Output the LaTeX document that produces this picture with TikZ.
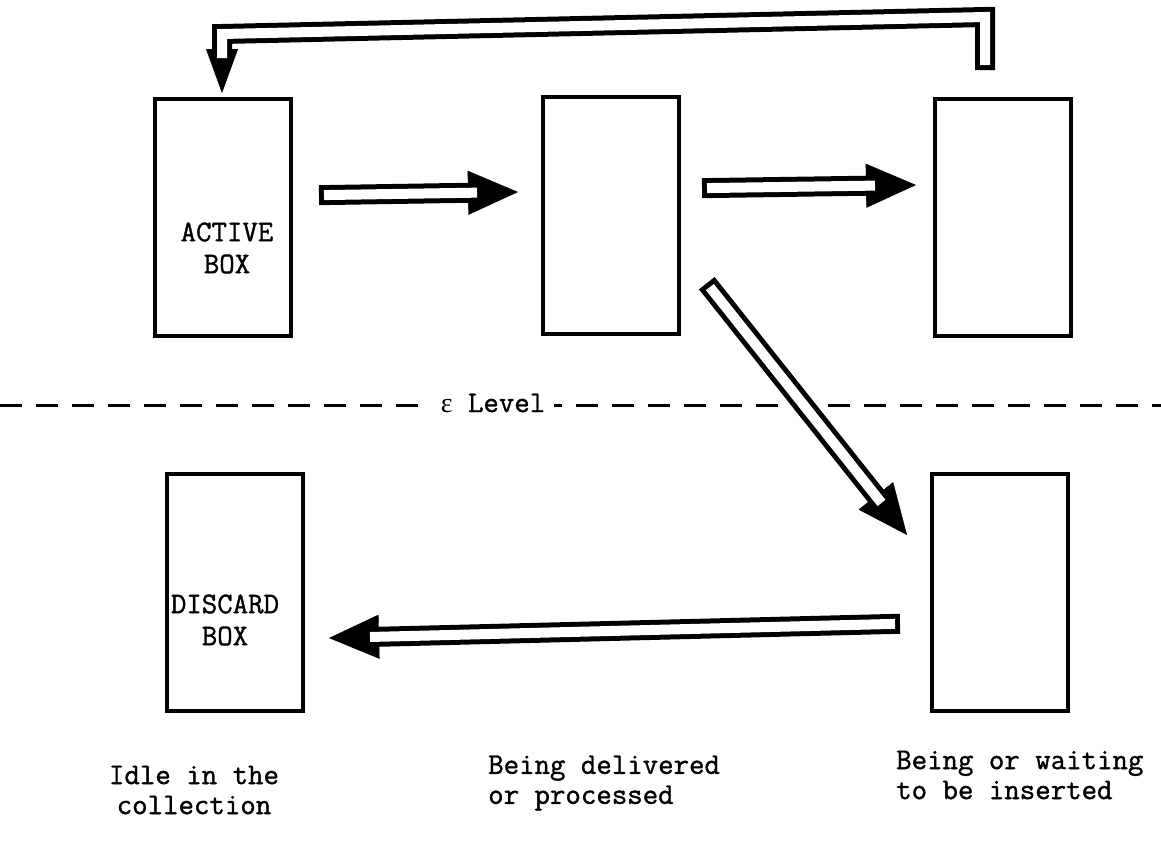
\documentclass[tikz,border=0pt]{standalone}
\usepackage{fontspec}
\newfontfamily\twb[FakeBold=1.2]{Latin Modern Mono}
\newfontfamily\grk{Liberation Serif}
\usetikzlibrary{arrows.meta}
\tikzset{
  boxnode/.style={draw=black, line width=4pt, minimum width=136pt, minimum height=237pt, inner sep=0pt, anchor=north west},
  boxlabel/.style={font=\twb\fontsize{30}{32}\selectfont, align=center, inner sep=0pt},
  botlabel/.style={font=\twb\fontsize{30}{30}\selectfont, inner sep=0pt},
  shaft/.style={draw=black, line width=5pt, double=white, double distance=10pt, line cap=rect, line join=miter, shorten >=46pt},
  head/.style={draw=black, line width=0.4pt, -{Triangle[length=50pt,width=44pt]}},
  smallhead/.style={draw=black, line width=0.4pt, -{Triangle[length=44pt,width=32pt]}},
}
\begin{document}
\begin{tikzpicture}[x=1pt,y=-1pt]
\useasboundingbox (0,0) rectangle (1161,849);
\fill[white] (0,0) rectangle (1161,849);
% boxes
\node[boxnode] (A) at (153,97) {};
\node[boxnode] (M) at (541,95) {};
\node[boxnode] (R) at (933,97) {};
\node[boxnode] (D) at (165,472) {};
\node[boxnode] (B) at (930,472) {};
\node[boxlabel] (Alab) at (227,248) {ACTIVE\\BOX};
\node[boxlabel] (Dlab) at (225,620) {DISCARD\\BOX};
% epsilon level
\draw[line width=3pt, dash pattern=on 22pt off 14pt] (0,405) -- (1161,405);
\node[fill=white, inner xsep=9pt, inner ysep=2pt, font=\twb\fontsize{30}{30}\selectfont] (eps) at (493,403) {{\grk\fontsize{28}{30}\selectfont ε} Level};
% arrow coordinates
\coordinate (a1s) at (329,195); \coordinate (a1e) at (518,192);
\coordinate (a2s) at (712,188); \coordinate (a2e) at (916,185);
\coordinate (a3s) at (713,291); \coordinate (a3e) at (907,535);
\coordinate (a4s) at (890,624); \coordinate (a4e) at (329,638);
\coordinate (a5s) at (985,60); \coordinate (a5r) at (985,17); \coordinate (a5l) at (222,34); \coordinate (a5e) at (222,93);
% heads
\draw[head] (a1s) -- (a1e);
\draw[head] (a2s) -- (a2e);
\draw[head] (a3s) -- (a3e);
\draw[head] (a4s) -- (a4e);
\draw[smallhead] (a5l) -- (a5e);
% shafts
\draw[shaft] (a1s) -- (a1e);
\draw[shaft] (a2s) -- (a2e);
\draw[shaft] (a3s) -- (a3e);
\draw[shaft] (a4s) -- (a4e);
\draw[shaft, shorten >=40pt] (a5s) -- (a5r) -- (a5l) -- (a5e);
% bottom labels
\node[botlabel, align=center] (l1) at (194,790) {Idle in the\\collection};
\node[botlabel, align=left, anchor=west] (l2) at (488,783) {Being delivered\\or processed};
\node[botlabel, align=left, anchor=west] (l3) at (896,775) {Being or waiting\\to be inserted};
\end{tikzpicture}
\end{document}
